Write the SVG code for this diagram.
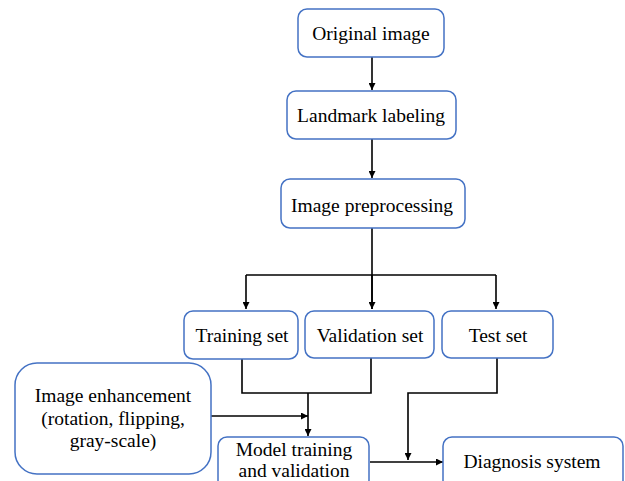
<svg xmlns="http://www.w3.org/2000/svg" width="625" height="481" viewBox="0 0 625 481">
<style>
.box{fill:#fff;stroke:#4472C4;stroke-width:1.5}
.t{font-family:"Liberation Serif","Times New Roman",serif;font-size:19.5px;fill:#000;text-anchor:middle}
.c{fill:none;stroke:#000;stroke-width:1.6}
</style>
<defs>
<marker id="a" viewBox="0 0 10 10" refX="10" refY="5" markerWidth="7" markerHeight="7" markerUnits="userSpaceOnUse" orient="auto">
<path d="M0,0L10,5L0,10z" fill="#000"/>
</marker>
</defs>
<rect width="625" height="481" fill="#fff"/>
<g id="connectors">
<path class="c" d="M372,57V90" marker-end="url(#a)"/>
<path class="c" d="M372,139V178" marker-end="url(#a)"/>
<path class="c" d="M372,228V309"/>
<path class="c" d="M246,275H496"/>
<path class="c" d="M246,275V309" marker-end="url(#a)"/>
<path class="c" d="M372,275V309" marker-end="url(#a)"/>
<path class="c" d="M496,275V309" marker-end="url(#a)"/>
<path class="c" d="M242,359V393H371V358"/>
<path class="c" d="M308,393V436" marker-end="url(#a)"/>
<path class="c" d="M211,416H308" marker-end="url(#a)"/>
<path class="c" d="M497,358V393H408V460" marker-end="url(#a)"/>
<path class="c" d="M370,462H443" marker-end="url(#a)"/>
</g>
<g id="original"><rect class="box" x="298" y="9" width="146" height="48" rx="9"/><text class="t" x="371" y="40">Original image</text></g>
<g id="landmark"><rect class="box" x="287" y="91" width="169" height="48" rx="9"/><text class="t" x="371" y="122">Landmark labeling</text></g>
<g id="preproc"><rect class="box" x="281" y="179" width="184" height="49" rx="9"/><text class="t" x="372" y="212">Image preprocessing</text></g>
<g id="training"><rect class="box" x="184" y="311" width="114" height="48" rx="9"/><text class="t" x="242" y="342">Training set</text></g>
<g id="validation"><rect class="box" x="305" y="311" width="129" height="47" rx="9"/><text class="t" x="370" y="342">Validation set</text></g>
<g id="test"><rect class="box" x="442" y="311" width="111" height="47" rx="9"/><text class="t" x="498" y="342">Test set</text></g>
<g id="enhance"><rect class="box" x="15" y="363" width="196" height="111" rx="22"/><text class="t" x="113" y="402">Image enhancement</text><text class="t" x="113" y="425">(rotation, flipping,</text><text class="t" x="113" y="447">gray-scale)</text></g>
<g id="model"><rect class="box" x="218" y="437" width="151" height="52" rx="9"/><text class="t" x="294" y="456">Model training</text><text class="t" x="294" y="477">and validation</text></g>
<g id="diagnosis"><rect class="box" x="443" y="437" width="180" height="52" rx="9"/><text class="t" x="532" y="468">Diagnosis system</text></g>
</svg>
